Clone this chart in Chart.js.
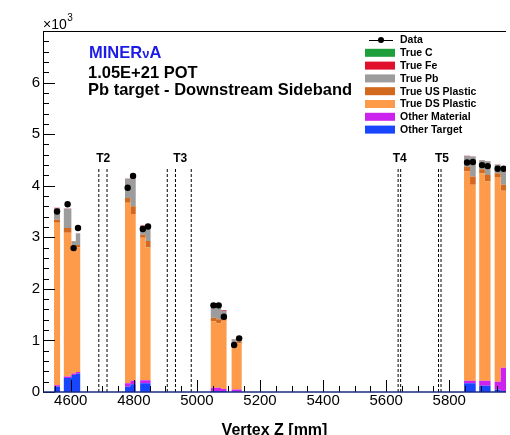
<!DOCTYPE html>
<html>
<head>
<meta charset="utf-8">
<script src="https://cdn.jsdelivr.net/npm/chart.js@4"></script>
<style>
  html, body { margin: 0; padding: 0; background: #fff; }
  #wrap { width: 510px; height: 435px; position: relative; }
</style>
</head>
<body>
<div id="wrap"><canvas id="c"></canvas></div>
<script>
const FONT = "'Liberation Sans', Arial, Helvetica, sans-serif";
Chart.defaults.font.family = FONT;

// Bin edges along the beam axis (mm); each pair of consecutive edges bounds one bin.
const binEdges = [4547, 4566, 4578, 4602, 4616, 4630, 4772, 4789, 4806, 4820, 4837, 4853,
  5044, 5061, 5077, 5094, 5110, 5126, 5142, 5847, 5866, 5884, 5895, 5913, 5931, 5944, 5963, 5982];

// Simulated events per bin, one list per component (stacked bottom to top in this order).
const otherTarget   = [100, 0, 270, 330, 360, 0, 100, 150, 0, 170, 170, 0, 20, 20, 20, 0, 10, 10, 0, 170, 170, 0, 120, 120, 0, 50, 20];
const otherMaterial = [30, 0, 30, 30, 30, 0, 70, 70, 0, 60, 60, 0, 60, 60, 40, 0, 40, 40, 0, 50, 50, 0, 100, 100, 0, 150, 450];
const dsPlastic     = [3150, 0, 2790, 2450, 2410, 0, 3500, 3230, 0, 2760, 2570, 0, 1290, 1250, 1320, 0, 870, 890, 0, 4060, 3800, 0, 4020, 3860, 0, 3970, 3430];
const usPlastic     = [60, 0, 90, 30, 50, 0, 90, 150, 0, 60, 130, 0, 70, 80, 50, 0, 30, 40, 0, 90, 160, 0, 80, 130, 0, 70, 120];
const truePb        = [220, 0, 375, 85, 225, 0, 375, 535, 0, 155, 275, 0, 265, 295, 140, 0, 75, 75, 0, 205, 385, 0, 175, 265, 0, 165, 265];
const trueFe        = [15, 0, 5, 5, 5, 0, 5, 5, 0, 25, 25, 0, 5, 5, 15, 0, 5, 15, 0, 5, 5, 0, 5, 5, 0, 5, 5];
const trueC         = [0, 0, 0, 0, 0, 0, 0, 0, 0, 0, 0, 0, 0, 0, 0, 0, 0, 0, 0, 0, 0, 0, 0, 0, 0, 0, 0];

// Measured events per bin (null where the bin is empty).
const dataCounts = [3500, null, 3640, 2790, 3180, null, 3960, 4190, null, 3160, 3210, null, 1680, 1680, 1460, null, 910, 1040, null, 4450, 4460, null, 4400, 4380, null, 4330, 4330];

// Axis ticks
const yTickValues = [0, 1000, 2000, 3000, 4000, 5000, 6000];
const xTickValues = [4600, 4800, 5000, 5200, 5400, 5600, 5800];

// Nuclear target boundaries (mm) and their names
const targetLines = [4689, 4715, 4906, 4932, 4982, 5638, 5646, 5766, 5774];
const targetNames = ['T2', 'T3', 'T4', 'T5'];
const targetNameX = [4703, 4947, 5643, 5777];
const targetLineTop = 4350;

const components = [
  { label: 'Other Target',    values: otherTarget,   color: '#1846ff' },
  { label: 'Other Material',  values: otherMaterial, color: '#cc22ee' },
  { label: 'True DS Plastic', values: dsPlastic,     color: '#fd9b4b' },
  { label: 'True US Plastic', values: usPlastic,     color: '#d2691e' },
  { label: 'True Pb',         values: truePb,        color: '#9c9c9c' },
  { label: 'True Fe',         values: trueFe,        color: '#e0102c' },
  { label: 'True C',          values: trueC,         color: '#1f9e3c' }
];

// Histogram outline: one point per bin edge, held flat until the next edge.
function stepPoints(values) {
  return binEdges.map((e, i) => ({ x: e, y: i < values.length ? values[i] : 0 }));
}

const histSets = components.map((c, k) => ({
  type: 'line',
  label: c.label,
  data: stepPoints(c.values),
  stepped: 'before',
  borderWidth: 0,
  pointRadius: 0,
  backgroundColor: c.color,
  borderColor: c.color,
  fill: k === 0 ? 'origin' : '-1',
  stack: 'mc',
  order: 1
}));

const dashSets = targetLines.map((x, i) => ({
  type: 'line',
  data: [{ x: x, y: 0 }, { x: x, y: targetLineTop }],
  borderColor: '#000',
  borderWidth: 1,
  borderDash: [3, 2],
  pointRadius: 0,
  fill: false,
  stack: 'target' + i,
  order: -1
}));

const dataPoints = [];
dataCounts.forEach((v, i) => {
  if (v !== null) dataPoints.push({ x: (binEdges[i] + binEdges[i + 1]) / 2, y: v });
});
const dataSet = {
  type: 'line',
  label: 'Data',
  data: dataPoints,
  showLine: false,
  pointRadius: 3.2,
  pointBackgroundColor: '#000',
  pointBorderWidth: 0,
  fill: false,
  stack: 'data',
  order: -2
};

// Inside tick marks and the frame, drawn over the histogram
const framePlugin = {
  id: 'frame',
  afterDatasetsDraw(chart) {
    const { ctx, chartArea: a, scales: { x, y } } = chart;
    ctx.save();
    ctx.strokeStyle = '#000';
    ctx.lineWidth = 1;
    ctx.beginPath();
    for (let v = 0; v <= 7000; v += 200) {
      const py = Math.round(y.getPixelForValue(v)) + 0.5;
      const len = v % 1000 === 0 ? 12 : 6;
      ctx.moveTo(a.left, py);
      ctx.lineTo(a.left + len, py);
    }
    for (let v = 4550; v <= 5980; v += 50) {
      const px = Math.round(x.getPixelForValue(v)) + 0.5;
      const len = v % 200 === 0 ? 12 : 6;
      ctx.moveTo(px, a.bottom);
      ctx.lineTo(px, a.bottom - len);
    }
    ctx.stroke();
    ctx.beginPath();
    ctx.moveTo(a.left + 0.5, a.bottom);
    ctx.lineTo(a.left + 0.5, a.top + 0.5);
    ctx.lineTo(a.right, a.top + 0.5);
    ctx.stroke();
    ctx.strokeStyle = '#1b2a80';
    ctx.lineWidth = 1.5;
    ctx.beginPath();
    ctx.moveTo(a.left, a.bottom);
    ctx.lineTo(a.right, a.bottom);
    ctx.stroke();
    ctx.restore();
  }
};

// Labels, exponent, target names and the legend box
const labelPlugin = {
  id: 'labels',
  afterDraw(chart) {
    const { ctx, chartArea: a, scales: { x } } = chart;
    ctx.save();
    ctx.fillStyle = '#000';
    ctx.textBaseline = 'alphabetic';

    // exponent of the y axis
    ctx.font = '14px ' + FONT;
    ctx.textAlign = 'left';
    ctx.fillText('\u00d710', 43, 29);
    const w10 = ctx.measureText('\u00d710').width;
    ctx.font = '10px ' + FONT;
    ctx.fillText('3', 43 + w10 + 0.5, 21);

    // experiment / exposure / selection
    let px = 89;
    ctx.fillStyle = '#1c1ce6';
    ctx.font = 'bold 16.5px ' + FONT;
    ctx.fillText('MINER', px, 58);
    px += ctx.measureText('MINER').width;
    ctx.font = 'bold 13px ' + FONT;
    ctx.fillText('\u03bd', px, 58);
    px += ctx.measureText('\u03bd').width;
    ctx.font = 'bold 16.5px ' + FONT;
    ctx.fillText('A', px, 58);

    ctx.fillStyle = '#000';
    ctx.fillText('1.05E+21 POT', 88, 77.5);
    ctx.fillText('Pb target - Downstream Sideband', 88, 95);

    // target names
    ctx.font = 'bold 12px ' + FONT;
    ctx.textAlign = 'center';
    targetNames.forEach((t, i) => ctx.fillText(t, x.getPixelForValue(targetNameX[i]), 162));

    // legend
    const rows = ['Data', 'True C', 'True Fe', 'True Pb', 'True US Plastic', 'True DS Plastic', 'Other Material', 'Other Target'];
    ctx.font = 'bold 10.5px ' + FONT;
    ctx.textAlign = 'left';
    ctx.textBaseline = 'middle';
    rows.forEach((name, i) => {
      const yc = 40 + i * 12.8;
      if (name === 'Data') {
        ctx.strokeStyle = '#000';
        ctx.lineWidth = 1;
        ctx.beginPath();
        ctx.moveTo(369, Math.round(yc) + 0.5);
        ctx.lineTo(393, Math.round(yc) + 0.5);
        ctx.stroke();
        ctx.beginPath();
        ctx.arc(381, yc, 3, 0, Math.PI * 2);
        ctx.fillStyle = '#000';
        ctx.fill();
      } else {
        const c = components.find(cc => cc.label === name);
        ctx.fillStyle = c.color;
        ctx.fillRect(365, yc - 4, 30, 8);
      }
      ctx.fillStyle = '#000';
      ctx.fillText(name, 400, yc + 0.5);
    });
    ctx.restore();
  }
};

new Chart(document.getElementById('c'), {
  type: 'line',
  data: { datasets: [...histSets, ...dashSets, dataSet] },
  options: {
    responsive: true,
    maintainAspectRatio: false,
    animation: false,
    events: [],
    layout: { padding: { top: 31, right: 0, bottom: 0, left: 0 } },
    plugins: { legend: { display: false }, tooltip: { enabled: false } },
    scales: {
      x: {
        type: 'linear',
        min: 4512,
        max: 5980,
        grid: { display: false, drawTicks: false },
        border: { display: false },
        afterBuildTicks: s => { s.ticks = xTickValues.map(v => ({ value: v })); },
        afterFit: s => { s.height = 43; },
        ticks: { padding: 0, color: '#000', font: { size: 15 }, maxRotation: 0, autoSkip: false, callback: v => String(v) },
        title: { display: true, text: 'Vertex Z [mm]', color: '#000', font: { size: 16, weight: 'bold' }, padding: { top: 0, bottom: -5 } }
      },
      y: {
        type: 'linear',
        min: 0,
        max: 7000,
        stacked: true,
        grid: { display: false, drawTicks: false },
        border: { display: false },
        afterBuildTicks: s => { s.ticks = yTickValues.map(v => ({ value: v })); },
        afterFit: s => { s.width = 43; },
        ticks: { padding: 3, color: '#000', font: { size: 15 }, callback: v => String(v / 1000) }
      }
    }
  },
  plugins: [framePlugin, labelPlugin]
});
</script>
</body>
</html>
